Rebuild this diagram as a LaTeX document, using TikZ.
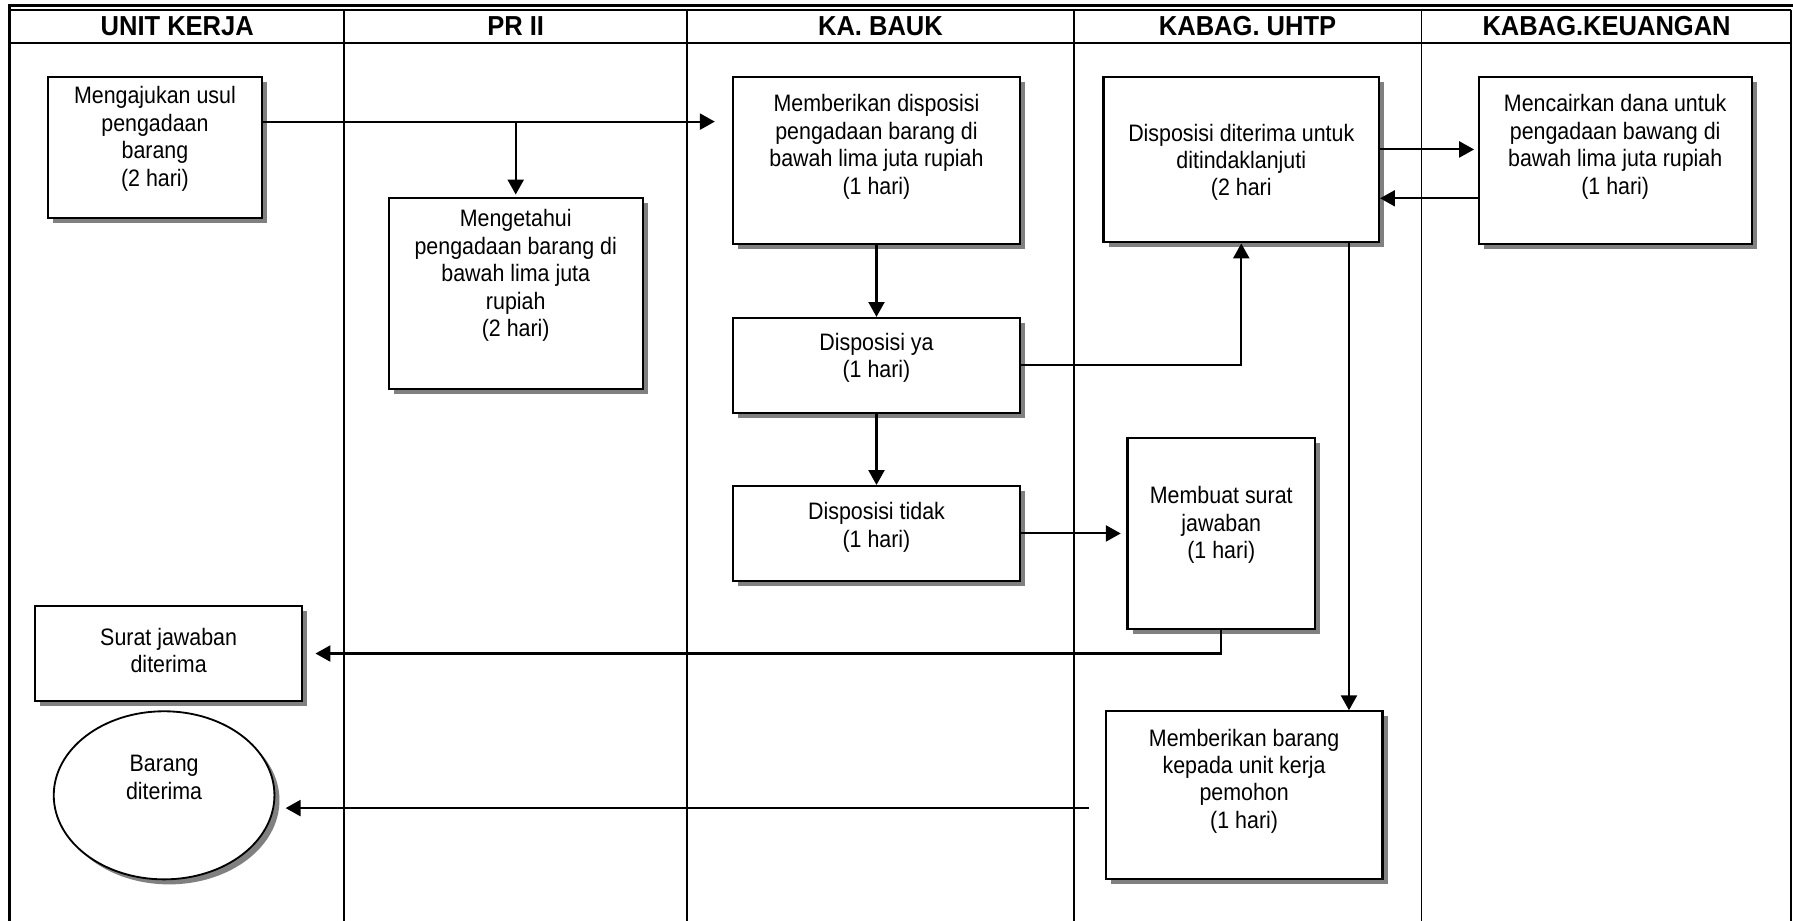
\documentclass[tikz,border=0pt]{standalone}
\usepackage{fontspec}
\setmainfont[FakeStretch=0.9]{Liberation Sans}
\newfontfamily\headfont[FakeStretch=0.93]{Liberation Sans}
\usetikzlibrary{arrows.meta,shadows,fit,calc,shapes.geometric}
\definecolor{shadowgray}{RGB}{128,128,128}
\tikzset{
  box/.style={draw, line width=0.9pt, fill=white, inner sep=0pt,
    drop shadow={shadow xshift=2.2pt, shadow yshift=-2.2pt, fill=shadowgray, opacity=1}},
  oval/.style={ellipse, draw, line width=0.8pt, fill=white, inner sep=0pt,
    minimum width=96.5pt, minimum height=73.5pt,
    drop shadow={shadow xshift=2.2pt, shadow yshift=-2.2pt, fill=shadowgray, opacity=1}},
  txt/.style={align=center, inner sep=0pt, font=\fontsize{10.4pt}{12pt}\selectfont},
  head/.style={inner sep=0pt, font=\headfont\fontsize{12pt}{14pt}\selectfont\bfseries},
  arr/.style={line width=0.9pt, -{Triangle[length=6.5pt,width=7pt]}},
  lane/.style={line width=0.75pt}
}
\begin{document}
\begin{tikzpicture}[x=0.5pt, y=-0.5pt]
\useasboundingbox (0,0) rectangle (1568,805);

% swimlane frame
\draw[line width=1.4pt] (8,805) -- (8,4.5) -- (1568,4.5);
\draw[lane] (8,8.5) -- (1566,8.5);
\draw[lane] (1566,8.5) -- (1566,805);
\draw[line width=1pt] (8,37.5) -- (1566,37.5);
\foreach \lx in {301,601,939,1243}
  \draw[lane] (\lx,8.5) -- (\lx,805);

% lane titles
\node[head] (h1) at (155,23) {UNIT KERJA};
\node[head] (h2) at (451,23) {PR II};
\node[head] (h3) at (770,23) {KA. BAUK};
\node[head] (h4) at (1091,23) {KABAG. UHTP};
\node[head] (h5) at (1405,23) {KABAG.KEUANGAN};

% process boxes
\node[box, fit={(42,67) (229,191)}] (b1) {};
\node[txt] (t1) at (135.5,121.5) {Mengajukan usul\\pengadaan\\barang\\(2 hari)};

\node[box, fit={(340,173) (562,340)}] (b2) {};
\node[txt] (t2) at (451,241) {Mengetahui\\pengadaan barang di\\bawah lima juta\\rupiah\\(2 hari)};

\node[box, fit={(641,67) (892,213)}] (b3) {};
\node[txt] (t3) at (766.5,128.5) {Memberikan disposisi\\pengadaan barang di\\bawah lima juta rupiah\\(1 hari)};

\node[box, fit={(641,278) (892,361)}] (b4) {};
\node[txt] (t4) at (766.5,313) {Disposisi ya\\(1 hari)};

\node[box, fit={(641,425) (892,508)}] (b5) {};
\node[txt] (t5) at (766.5,461) {Disposisi tidak\\(1 hari)};

\node[box, fit={(965,67) (1206,212)}] (b6) {};
\node[txt] (t6) at (1085.5,142) {Disposisi diterima untuk\\ditindaklanjuti\\(2 hari};

\node[box, fit={(1293,67) (1532,213)}] (b7) {};
\node[txt] (t7) at (1412.5,128.5) {Mencairkan dana untuk\\pengadaan bawang di\\bawah lima juta rupiah\\(1 hari)};

\node[box, fit={(986,383) (1150,550)}] (b8) {};
\node[txt] (t8) at (1068,459) {Membuat surat\\jawaban\\(1 hari)};

\node[box, fit={(31,530) (264,613)}] (b9) {};
\node[txt] (t9) at (147.5,569) {Surat jawaban\\diterima};

\node[oval] (b10) at (143.5,695.5) {};
\node[txt] (t10) at (143.5,680) {Barang\\diterima};

\node[box, fit={(967,622) (1209,769)}] (b11) {};
\node[txt] (t11) at (1088,683) {Memberikan barang\\kepada unit kerja\\pemohon\\(1 hari)};

% connector anchor points on box edges
\coordinate (s1) at ($(b1.north east)!0.32!(b1.south east)$);
\coordinate (s6) at ($(b6.north east)!0.44!(b6.south east)$);
\coordinate (s7) at ($(b7.north west)!0.726!(b7.south west)$);
\coordinate (s8) at ($(b6.south west)!0.888!(b6.south east)$);
\coordinate (s11) at ($(b11.north west)!0.575!(b11.south west)$);

% connectors
\draw[arr, shorten >=7.5pt] (s1) -- (s1 -| b3.west);
\draw[arr, shorten >=1pt] (s1 -| b2.north) -- (b2.north);
\draw[arr] (b3.south) -- (b4.north);
\draw[arr] (b4.south) -- (b5.north);
\draw[arr] (b4.east) -| (b6.south);
\draw[arr, shorten >=1.5pt] (s6) -- (s6 -| b7.west);
\draw[arr] (s7) -- (s7 -| b6.east);
\draw[arr] (s8) -- (s8 |- b11.north);
\draw[arr, shorten >=2.5pt] (b5.east) -- (b5.east -| b8.west);
\draw[arr, shorten >=5.5pt] (b8.south) |- (b9.east);
\draw[arr, shorten <=7pt, shorten >=4.5pt] (s11) -- (s11 -| b10.east);
\end{tikzpicture}
\end{document}
